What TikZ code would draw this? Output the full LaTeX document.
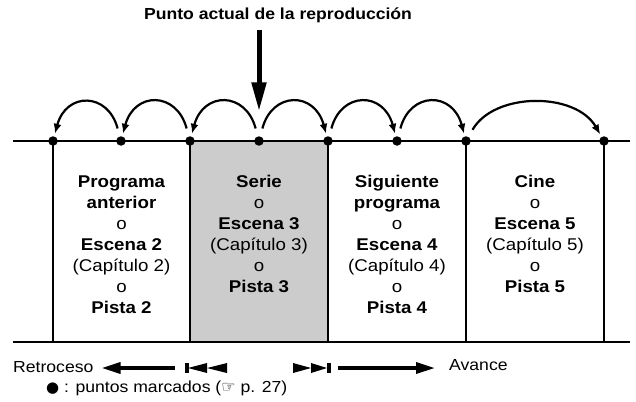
\documentclass[tikz,border=0pt]{standalone}
\usepackage{fontspec}
\setmainfont{Liberation Sans}[FakeStretch=1.1]
\newfontfamily\symfont{DejaVu Sans}
\usetikzlibrary{arrows.meta}
\definecolor{greyfill}{RGB}{204,204,204}
\tikzset{
  dot/.style={circle, fill=black, inner sep=0pt, minimum size=9.5pt},
  bt/.style={font=\bfseries\fontsize{17}{20}\selectfont, anchor=base, inner sep=0pt},
  rt/.style={font=\fontsize{17}{20}\selectfont, anchor=base, inner sep=0pt},
  small/.style={font=\fontsize{16}{19}\selectfont, anchor=base west, inner sep=0pt},
  hop/.style={line width=2.2pt, -{Latex[length=10pt,width=8pt]}, looseness=1.8, shorten <=8pt, shorten >=2.5pt},
  rail/.style={line width=2.4pt},
  post/.style={line width=1.5pt},
  bigarrow/.style={line width=3.5pt, -{Triangle[length=19pt,width=11pt]}},
}
\begin{document}
\begin{tikzpicture}[x=1pt,y=-1pt]
\useasboundingbox (0,0) rectangle (636,401);
% shaded segment
\fill[greyfill] (190,141) rectangle (328,342);
% rails
\coordinate (tl) at (13,141);
\coordinate (tr) at (630,141);
\coordinate (bl) at (13,342);
\coordinate (br) at (630,342);
% marked points
\node[dot] (d1) at (53,141) {};
\node[dot] (d2) at (121,141) {};
\node[dot] (d3) at (190,141) {};
\node[dot] (d4) at (259,141) {};
\node[dot] (d5) at (328,141) {};
\node[dot] (d6) at (397,141) {};
\node[dot] (d7) at (466,141) {};
\node[dot] (d8) at (604,141) {};
% posts
\foreach \p in {d1,d3,d5,d7,d8}
  \draw[post] (\p.center) -- (\p |- bl);
\draw[rail] (tl) -- (tr);
\draw[rail] (bl) -- (br);
% hops
\draw[hop] (d2) to[out=105,in=75] (d1);
\draw[hop] (d3) to[out=105,in=75] (d2);
\draw[hop] (d4) to[out=105,in=75] (d3);
\draw[hop] (d4) to[out=75,in=105] (d5);
\draw[hop] (d5) to[out=75,in=105] (d6);
\draw[hop] (d6) to[out=75,in=105] (d7);
\draw[hop, looseness=1] (d7) to[out=60,in=120] (d8);
% title and current point arrow
\node[font=\bfseries\fontsize{16}{19}\selectfont, anchor=base, inner sep=0pt] (title) at (278,20) {Punto actual de la reproducción};
\draw[line width=5pt, -{Triangle[length=29pt,width=14pt]}, shorten <=6pt, shorten >=24.7pt] (title.south -| d4) -- (d4);
% column texts
\foreach \s/\t [count=\k from 0] in {bt/Programa, bt/anterior, rt/o, bt/Escena 2, rt/(Capítulo 2), rt/o, bt/Pista 2}
  \node[\s] (a\k) at (121.5, 187+21*\k) {\t};
\foreach \s/\t [count=\k from 0] in {bt/Serie, rt/o, bt/Escena 3, rt/(Capítulo 3), rt/o, bt/Pista 3}
  \node[\s] (b\k) at (259, 187+21*\k) {\t};
\foreach \s/\t [count=\k from 0] in {bt/Siguiente, bt/programa, rt/o, bt/Escena 4, rt/(Capítulo 4), rt/o, bt/Pista 4}
  \node[\s] (c\k) at (397, 187+21*\k) {\t};
\foreach \s/\t [count=\k from 0] in {bt/Cine, rt/o, bt/Escena 5, rt/(Capítulo 5), rt/o, bt/Pista 5}
  \node[\s] (e\k) at (535, 187+21*\k) {\t};
% bottom legend
\node[small] (retro) at (13,372) {Retroceso};
\coordinate (ls) at (175,368);
\draw[bigarrow, shorten >=8pt] (ls) -- (retro.east |- ls);
\fill (185,363) rectangle (188.5,373);
\fill (188,368) -- (207,363) -- (207,373) -- cycle;
\fill (207,368) -- (227,363) -- (227,373) -- cycle;
\fill (293,363) -- (311,368) -- (293,373) -- cycle;
\fill (311,363) -- (327,368) -- (311,373) -- cycle;
\fill (327,363) rectangle (330.5,373);
\node[small] (avance) at (449,370) {Avance};
\coordinate (rs) at (338,368);
\draw[bigarrow, shorten >=14pt] (rs) -- (avance.west |- rs);
\node[small] (legend) at (46,392) {{\symfont\fontsize{15}{15}\selectfont ●} : puntos marcados ({\symfont\fontsize{16}{16}\selectfont ☞} p. 27)};
\end{tikzpicture}
\end{document}
